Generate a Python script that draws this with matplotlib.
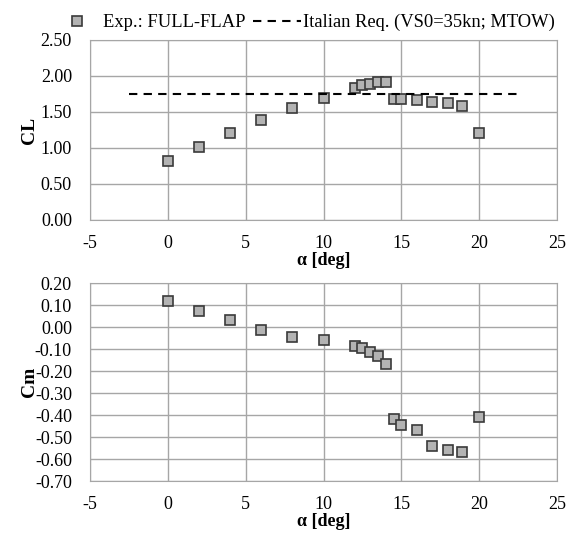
import numpy as np
import matplotlib
matplotlib.use("Agg")
import matplotlib.pyplot as plt

# experimental data, full flap
alpha = [0, 2, 4, 6, 8, 10, 12, 12.5, 13, 13.5, 14, 14.5, 15, 16, 17, 18, 18.9, 20]
cl = [0.82, 1.01, 1.21, 1.39, 1.55, 1.69, 1.83, 1.87, 1.89, 1.91, 1.92,
      1.68, 1.68, 1.66, 1.64, 1.62, 1.58, 1.21]
cm = [0.12, 0.075, 0.03, -0.015, -0.046, -0.06, -0.087, -0.096, -0.114, -0.132,
      -0.17, -0.417, -0.444, -0.467, -0.539, -0.557, -0.570, -0.408]

# italian requirement (VS0=35kn; MTOW)
req_alpha = [-2.5, 22.5]
req_cl = [1.75, 1.75]

plt.rcParams["font.family"] = ["Liberation Serif", "DejaVu Serif"]
plt.rcParams["font.size"] = 13
plt.rcParams["axes.unicode_minus"] = False

fig = plt.figure(figsize=(5.74, 5.36), dpi=100)
ax1 = fig.add_axes([0.1568, 0.5896, 0.8136, 0.3358])
ax2 = fig.add_axes([0.1568, 0.1026, 0.8136, 0.3694])

mk = dict(marker="s", linestyle="none", markersize=7, markerfacecolor="#b3b3b3",
          markeredgecolor="#3a3a3a", markeredgewidth=1.2)

p1, = ax1.plot(alpha, cl, label="Exp.: FULL-FLAP", **mk)
l1, = ax1.plot(req_alpha, req_cl, "--", color="black", lw=1.5, dashes=(4, 3),
               label="Italian Req. (VS0=35kn; MTOW)")
ax2.plot(alpha, cm, **mk)

for ax in (ax1, ax2):
    ax.set_xlim(-5, 25)
    ax.set_xticks(np.arange(-5, 26, 5))
    ax.grid(True, color="#a6a6a6", lw=1)
    ax.set_axisbelow(True)
    ax.tick_params(axis="y", length=0, pad=13)
    ax.tick_params(axis="x", length=0, pad=11)
    for s in ax.spines.values():
        s.set_color("#a6a6a6")
    ax.set_xlabel("α [deg]", fontweight="bold", labelpad=0)

ax1.set_ylim(0, 2.5)
ax1.set_yticks(np.arange(0, 2.51, 0.5))
ax1.set_yticklabels(["%.2f" % v for v in np.arange(0, 2.51, 0.5)])
ax1.set_ylabel("CL", fontweight="bold", fontsize=14, labelpad=2)

ax2.set_ylim(-0.7, 0.2)
yt = np.round(np.arange(-0.7, 0.21, 0.1), 2)
ax2.set_yticks(yt)
ax2.set_yticklabels(["%.2f" % (v + 0.0) for v in yt])
ax2.set_ylabel("Cm", fontweight="bold", fontsize=14, labelpad=-2)

fig.legend(handles=[p1, l1], loc="upper center", bbox_to_anchor=(0.53, 1.005),
           ncol=2, frameon=False, handlelength=2.6, handletextpad=0.1,
           columnspacing=0.4, fontsize=13.3)

plt.savefig("out.png", dpi=100)
